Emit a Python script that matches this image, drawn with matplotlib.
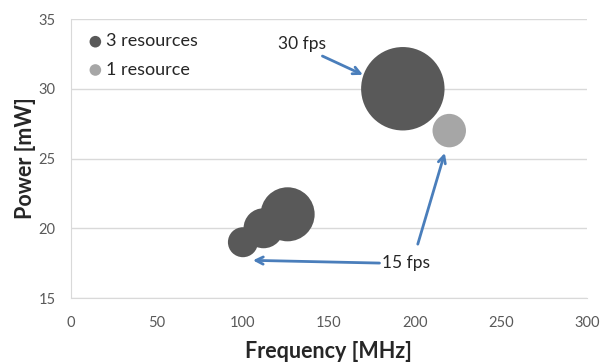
import matplotlib
matplotlib.use("Agg")
import matplotlib.pyplot as plt

# bubble data
freq_3res = [100, 112, 126, 193]
power_3res = [19, 20, 21, 30]
size_3res = [225, 400, 730, 1740]   # relative bubble area

freq_1res = [220]
power_1res = [27]
size_1res = [280]

x_ticks = [0, 50, 100, 150, 200, 250, 300]
y_ticks = [15, 20, 25, 30, 35]

DARK = "#595959"
LIGHT = "#a6a6a6"
BLUE = "#4a7ebb"
GRID = "#d9d9d9"
TICK = "#595959"
TEXT = "#262626"

plt.rcParams["font.family"] = ["Lato", "DejaVu Sans"]

fig = plt.figure(figsize=(6, 3.64), dpi=100)
ax = fig.add_axes([0.1183, 0.1813, 0.8597, 0.7665])

# size value is pixel radius^2 -> marker area in pt^2
scale = (2 * 0.72) ** 2
ax.scatter(freq_3res, power_3res, s=[v * scale for v in size_3res],
           color=DARK, edgecolors="none", zorder=3, label="3 resources")
ax.scatter(freq_1res, power_1res, s=[v * scale for v in size_1res],
           color=LIGHT, edgecolors="none", zorder=3, label="1 resource")

ax.set_xlim(0, 300)
ax.set_ylim(15, 35)
ax.set_xticks(x_ticks)
ax.set_yticks(y_ticks)
ax.tick_params(length=0, labelsize=10.5, labelcolor=TICK)
ax.tick_params(axis="x", pad=13)
ax.tick_params(axis="y", pad=11)
ax.yaxis.grid(True, color=GRID, lw=1)
ax.set_axisbelow(True)
for side in ("top", "right"):
    ax.spines[side].set_visible(False)
for side in ("left", "bottom"):
    ax.spines[side].set_color(GRID)

ax.set_xlabel("Frequency [MHz]", fontsize=15.5, fontweight="bold", color=TEXT, labelpad=8)
ax.set_ylabel("Power [mW]", fontsize=15.5, fontweight="bold", color=TEXT, labelpad=2)

leg = ax.legend(loc="upper left", frameon=False, fontsize=13, handletextpad=0.05,
                borderaxespad=0.5, labelspacing=0.68, handlelength=1.1,
                borderpad=0.3)
for h in leg.legend_handles:
    h.set_sizes([70])
for t in leg.get_texts():
    t.set_color(TEXT)

arrow = dict(arrowstyle="->", color=BLUE, lw=2, mutation_scale=13, shrinkA=0, shrinkB=0)
ax.annotate("30 fps", xy=(169.8, 31.0), xytext=(134.3, 33.2), fontsize=12.5,
            ha="center", va="center", color=TEXT,
            arrowprops=dict(arrow, relpos=(0.75, 0), shrinkA=2))
ax.annotate("15 fps", xy=(105.8, 17.7), xytext=(195, 17.5), fontsize=12.5,
            ha="center", va="center", color=TEXT,
            arrowprops=dict(arrow, relpos=(0, 0.5)))
ax.annotate("", xy=(217.4, 25.4), xytext=(201.7, 18.86), arrowprops=arrow)

fig.savefig("out.png", dpi=100)
